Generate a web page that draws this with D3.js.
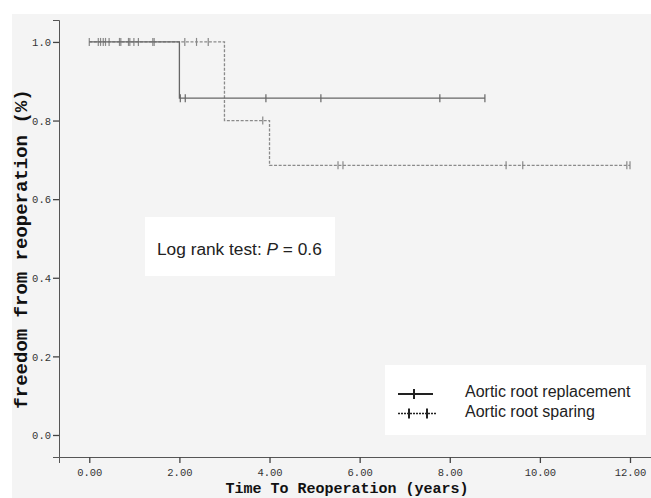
<!DOCTYPE html>
<html>
<head>
<meta charset="utf-8">
<script src="https://cdn.jsdelivr.net/npm/d3@7"></script>
<style>
	body { margin: 0; background: #fff; }
	svg { display: block; }
</style>
</head>
<body>
<div id="chart"></div>
<script>
(function () {
	"use strict";

	// values
	var groups = ['Aortic root replacement', 'Aortic root sparing'];
	var replacementTimes = [0, 2, 8.78];
	var replacementSurvival = [1, 0.857, 0.857];
	var replacementCensored = [2.02, 2.13, 3.92, 5.14, 7.78, 8.78];
	var sparingTimes = [0, 3, 4, 12];
	var sparingSurvival = [1, 0.8, 0.686, 0.686];
	var sparingCensored = [0, 0.2, 0.25, 0.31, 0.36, 0.44, 0.67, 0.7, 0.87, 0.9, 0.99, 1.09,
		1.41, 1.44, 2.12, 2.38, 2.64, 3.85, 5.52, 5.63, 9.25, 9.62, 11.93, 12];
	var xTicks = [0, 2, 4, 6, 8, 10, 12];
	var yTicks = [0, 0.2, 0.4, 0.6, 0.8, 1.0];

	var WIDTH = 651;
	var HEIGHT = 498;
	var MONO = '"Liberation Mono", "DejaVu Sans Mono", monospace';
	var SANS = '"Liberation Sans", Arial, sans-serif';

	var x = d3.scaleLinear().domain([-0.672, 12.466]).range([59, 651]);
	var y = d3.scaleLinear().domain([-0.056, 1.0558]).range([457, 20]);

	var svg = d3.select('#chart').append('svg')
		.attr('width', WIDTH)
		.attr('height', HEIGHT);

	svg.append('rect')
		.attr('x', 12).attr('y', 14)
		.attr('width', WIDTH - 12).attr('height', HEIGHT - 14)
		.attr('fill', '#f4f4f4');

	// axes
	var xAxis = svg.append('g')
		.attr('transform', 'translate(0,457)')
		.call(d3.axisBottom(x).tickValues(xTicks).tickFormat(d3.format('.2f')).tickSizeOuter(0).tickSize(6).tickPadding(6));
	var yAxis = svg.append('g')
		.attr('transform', 'translate(59,0)')
		.call(d3.axisLeft(y).tickValues(yTicks).tickFormat(d3.format('.1f')).tickSizeOuter(0).tickSize(6).tickPadding(2));

	[xAxis, yAxis].forEach(function (axis) {
		axis.select('.domain').attr('stroke', '#555');
		axis.selectAll('.tick line').attr('stroke', '#444').attr('stroke-width', 1.3);
		axis.selectAll('.tick text')
			.attr('fill', '#333')
			.style('font-family', MONO)
			.style('font-size', '10.5px');
	});
	yAxis.selectAll('.tick text').attr('dy', '0.35em');

	svg.append('text')
		.attr('x', 347).attr('y', 493)
		.attr('text-anchor', 'middle')
		.style('font-family', MONO).style('font-size', '15px').style('font-weight', 'bold')
		.attr('fill', '#111')
		.text('Time To Reoperation (years)');

	svg.append('text')
		.attr('transform', 'translate(27,249) rotate(-90)')
		.attr('text-anchor', 'middle')
		.style('font-family', MONO).style('font-size', '19px').style('font-weight', 'bold')
		.attr('fill', '#111')
		.text('freedom from reoperation (%)');

	// survival curves
	var series = [
		{ times: sparingTimes, survival: sparingSurvival, censored: sparingCensored,
			color: '#8a8a8a', dash: '3,1.6', tick: '#888' },
		{ times: replacementTimes, survival: replacementSurvival, censored: replacementCensored,
			color: '#666', dash: null, tick: '#666' }
	];

	var line = d3.line()
		.x(function (d) { return x(d[0]); })
		.y(function (d) { return y(d[1]); })
		.curve(d3.curveStepAfter);

	function survivalAt(s, t) {
		var value = s.survival[0];
		s.times.forEach(function (time, i) { if (time <= t) { value = s.survival[i]; } });
		return value;
	}

	series.forEach(function (s) {
		var points = s.times.map(function (t, i) { return [t, s.survival[i]]; });
		svg.append('path')
			.datum(points)
			.attr('d', line)
			.attr('fill', 'none')
			.attr('stroke', s.color)
			.attr('stroke-width', 1.3)
			.attr('stroke-dasharray', s.dash);

		svg.append('g').selectAll('line')
			.data(s.censored)
			.enter()
			.append('line')
			.attr('x1', function (t) { return x(t); })
			.attr('x2', function (t) { return x(t); })
			.attr('y1', function (t) { return y(survivalAt(s, t)) - 4; })
			.attr('y2', function (t) { return y(survivalAt(s, t)) + 4; })
			.attr('stroke', s.tick)
			.attr('stroke-width', 1.2);
	});

	// log rank annotation
	svg.append('rect')
		.attr('x', 145).attr('y', 217).attr('width', 190).attr('height', 59)
		.attr('fill', '#fff');
	var note = svg.append('text')
		.attr('x', 157).attr('y', 255)
		.style('font-family', SANS).style('font-size', '17.3px')
		.attr('fill', '#222');
	note.append('tspan').text('Log rank test: ');
	note.append('tspan').style('font-style', 'italic').text('P');
	note.append('tspan').text(' = 0.6');

	// legend
	svg.append('rect')
		.attr('x', 385).attr('y', 365).attr('width', 261).attr('height', 70)
		.attr('fill', '#fff');
	var legend = svg.append('g').selectAll('g')
		.data(groups)
		.enter()
		.append('g')
		.attr('transform', function (d, i) { return 'translate(0,' + (394 + i * 19.5) + ')'; });
	legend.append('line')
		.attr('x1', 398).attr('x2', function (d, i) { return i === 0 ? 433 : 436; })
		.attr('stroke', '#222')
		.attr('stroke-width', function (d, i) { return i === 0 ? 2.2 : 1.6; })
		.attr('stroke-dasharray', function (d, i) { return i === 0 ? null : '2,1'; });
	legend.each(function (d, i) {
		var marks = i === 0 ? [414] : [409, 427];
		d3.select(this).selectAll('.mark')
			.data(marks)
			.enter()
			.append('line')
			.attr('x1', function (m) { return m; })
			.attr('x2', function (m) { return m; })
			.attr('y1', -5).attr('y2', 5)
			.attr('stroke', '#222')
			.attr('stroke-width', 2);
	});
	legend.append('text')
		.attr('x', 465).attr('y', 3)
		.style('font-family', SANS).style('font-size', '16px')
		.attr('fill', '#222')
		.text(function (d) { return d; });
}());
</script>
</body>
</html>
